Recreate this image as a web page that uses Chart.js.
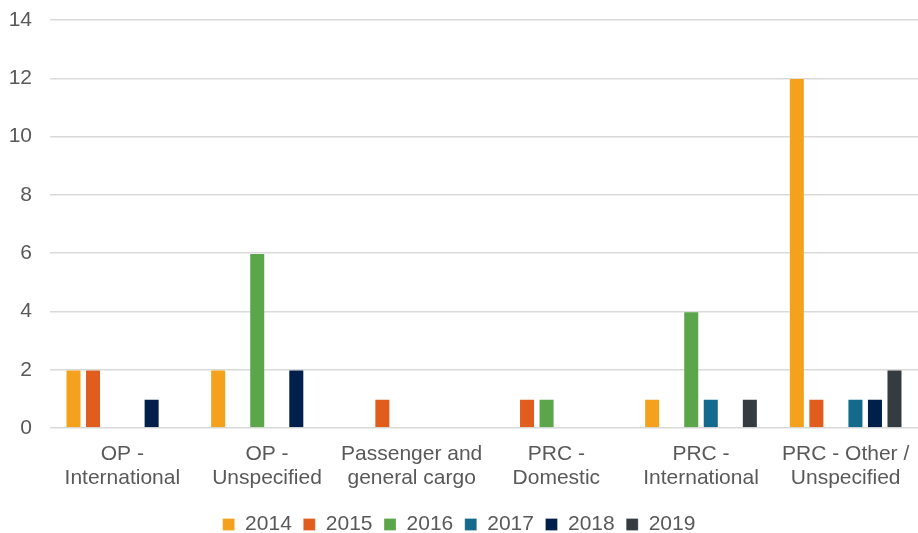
<!DOCTYPE html>
<html><head><meta charset="utf-8">
<script src="https://cdn.jsdelivr.net/npm/chart.js@4"></script>
<style>html,body{margin:0;padding:0;background:#fff}#w{width:918px;height:533px}</style>
</head><body><div id="w"><canvas id="c"></canvas></div>
<script>
const categories = [["OP -","International"],["OP -","Unspecified"],["Passenger and","general cargo"],["PRC -","Domestic"],["PRC -","International"],["PRC - Other /","Unspecified"]];
const seriesNames = ["2014","2015","2016","2017","2018","2019"];
const s2014 = [2,2,0,0,1,12];
const s2015 = [2,0,1,1,0,1];
const s2016 = [0,6,0,1,4,0];
const s2017 = [0,0,0,0,1,1];
const s2018 = [1,2,0,0,0,1];
const s2019 = [0,0,0,0,1,2];
const colors = ["#F4A21D","#E05D1E","#5BA64A","#136A8C","#011F4B","#343C41"];
const yTicks = [0,2,4,6,8,10,12,14];
const all = [s2014,s2015,s2016,s2017,s2018,s2019];
const font = {family:"'Liberation Sans', Arial, sans-serif", size:21, lineHeight:1.15};
new Chart(document.getElementById('c'),{
  type:'bar',
  data:{labels:categories,datasets:all.map((d,i)=>({label:seriesNames[i],data:d.map(v=>v===0?null:v),backgroundColor:colors[i],borderColor:'rgba(255,255,255,0.35)',borderWidth:0.8,categoryPercentage:0.81,barPercentage:0.8}))},
  options:{
    responsive:true,maintainAspectRatio:false,animation:false,
    layout:{padding:{left:0,right:0,top:20,bottom:-12}},
    plugins:{legend:{position:'bottom',title:{display:true,text:'',font:{size:1},padding:{top:0,bottom:5}},labels:{color:'#595959',font:font,boxWidth:12,boxHeight:12,padding:11.5}},tooltip:{enabled:false}},
    scales:{
      x:{grid:{display:false},border:{display:false},ticks:{color:'#595959',font:font,maxRotation:0,autoSkip:false,padding:6}},
      y:{min:0,max:14,afterBuildTicks:a=>{a.ticks=yTicks.map(v=>({value:v}));},afterFit:a=>{a.width=50;a.paddingTop=0;a.paddingBottom=0;},grid:{color:'#d9d9d9',lineWidth:1.5,drawTicks:false},border:{display:false},ticks:{color:'#595959',font:font,padding:18}}
    }
  }
});
</script></body></html>
